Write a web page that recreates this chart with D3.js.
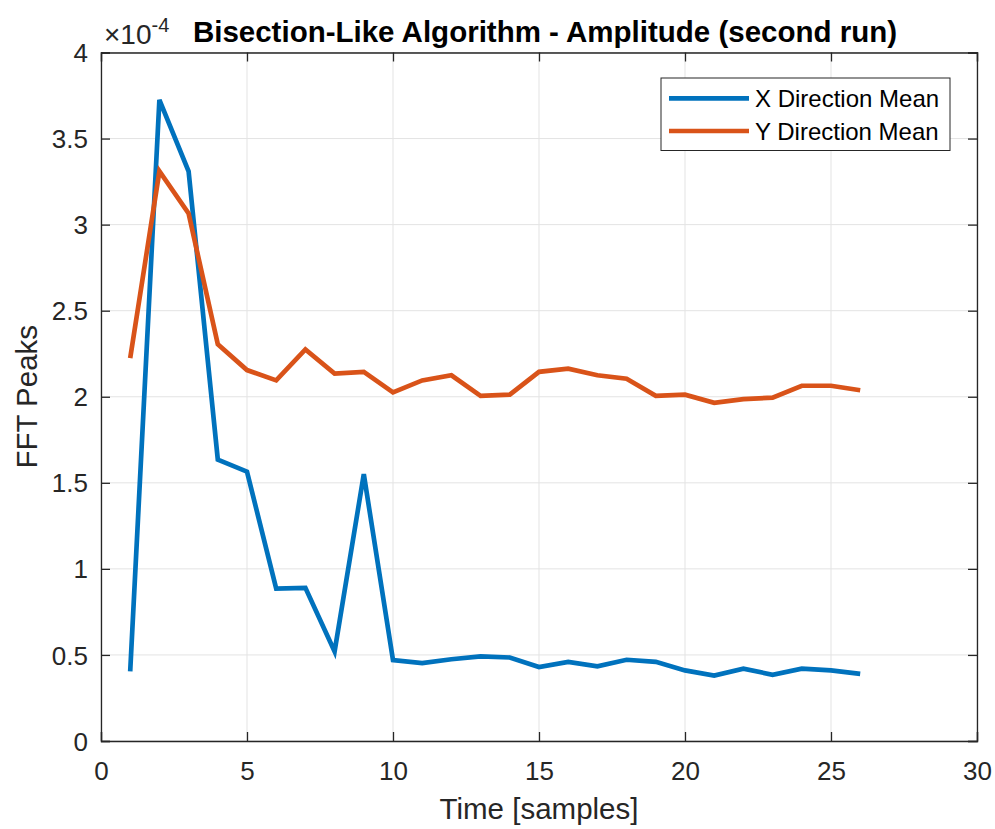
<!DOCTYPE html>
<html>
<head>
<meta charset="utf-8">
<script src="https://cdn.jsdelivr.net/npm/d3@7"></script>
<style>
  body { margin: 0; background: #fff; }
  svg text { font-family: "Liberation Sans", Arial, Helvetica, sans-serif; }
</style>
</head>
<body>
<div class="chart"></div>
<script>
// data (values in units of 1e-4)
const samples = d3.range(1, 27);
const xMean = [0.405, 3.725, 3.31, 1.635, 1.565, 0.885, 0.89, 0.52, 1.55, 0.47,
  0.453, 0.475, 0.492, 0.485, 0.43, 0.46, 0.434, 0.472, 0.46, 0.41,
  0.38, 0.42, 0.385, 0.42, 0.41, 0.39];
const yMean = [2.225, 3.31, 3.065, 2.305, 2.155, 2.095, 2.275, 2.135, 2.145, 2.025,
  2.095, 2.125, 2.005, 2.012, 2.145, 2.163, 2.125, 2.105, 2.005, 2.012,
  1.965, 1.986, 1.995, 2.064, 2.064, 2.038];
const xTicks = [0, 5, 10, 15, 20, 25, 30];
const yTicks = [0, 0.5, 1, 1.5, 2, 2.5, 3, 3.5, 4];
const seriesNames = ["X Direction Mean", "Y Direction Mean"];
const colors = ["#0072BD", "#D95319"];

const width = 995, height = 829;
const plot = { left: 101, right: 977, top: 52.5, bottom: 741 };

const svg = d3.select(".chart").append("svg")
  .attr("width", width).attr("height", height);

const xScale = d3.scaleLinear().domain([0, 30]).range([plot.left, plot.right]);
const yScale = d3.scaleLinear().domain([0, 4]).range([plot.bottom, plot.top]);

// grid
const grid = svg.append("g").attr("stroke", "#e3e3e3").attr("stroke-width", 1);
grid.selectAll(".gx").data(xTicks).join("line")
  .attr("x1", d => xScale(d)).attr("x2", d => xScale(d))
  .attr("y1", plot.top).attr("y2", plot.bottom);
grid.selectAll(".gy").data(yTicks).join("line")
  .attr("x1", plot.left).attr("x2", plot.right)
  .attr("y1", d => yScale(d)).attr("y2", d => yScale(d));

// axes (ticks pointing inward, like matlab)
const axisColor = "#262626";
const xAxis = d3.axisBottom(xScale).tickValues(xTicks).tickSize(-9).tickPadding(21);
const yAxis = d3.axisLeft(yScale).tickValues(yTicks).tickSize(-9).tickPadding(13)
  .tickFormat(d3.format(""));

const gx = svg.append("g").attr("transform", `translate(0,${plot.bottom})`).call(xAxis);
const gy = svg.append("g").attr("transform", `translate(${plot.left},0)`).call(yAxis);
const gxTop = svg.append("g").attr("transform", `translate(0,${plot.top})`)
  .call(d3.axisTop(xScale).tickValues(xTicks).tickSize(-9).tickFormat(""));
const gyRight = svg.append("g").attr("transform", `translate(${plot.right},0)`)
  .call(d3.axisRight(yScale).tickValues(yTicks).tickSize(-9).tickFormat(""));

[gx, gy, gxTop, gyRight].forEach(g => {
  g.select(".domain").attr("stroke", axisColor).attr("stroke-width", 1.3);
  g.selectAll(".tick line").attr("stroke", axisColor).attr("stroke-width", 1.3);
  g.selectAll(".tick text").attr("fill", axisColor)
    .style("font-size", "26px")
    .style("font-family", "'Liberation Sans', Arial, sans-serif");
});
gy.selectAll(".tick text").attr("dy", "0.35em");

// lines
const line = d3.line().x((d, i) => xScale(samples[i])).y(d => yScale(d));
[xMean, yMean].forEach((vals, k) => {
  svg.append("path")
    .datum(vals)
    .attr("fill", "none")
    .attr("stroke", colors[k])
    .attr("stroke-width", 4.7)
    .attr("stroke-linejoin", "miter")
    .attr("d", line);
});

// exponent label
const expo = svg.append("text")
  .attr("x", 104).attr("y", 44)
  .attr("fill", axisColor)
  .style("font-size", "28px");
expo.append("tspan").text("\u00d710");
expo.append("tspan").attr("dy", -12).style("font-size", "20px").text("-4");

// title
svg.append("text")
  .attr("x", 545).attr("y", 41.5)
  .attr("text-anchor", "middle")
  .style("font-size", "29.5px").style("font-weight", "bold")
  .attr("fill", "#000")
  .text("Bisection-Like Algorithm - Amplitude (second run)");

// axis labels
svg.append("text")
  .attr("x", (plot.left + plot.right) / 2).attr("y", 819)
  .attr("text-anchor", "middle").attr("fill", axisColor)
  .style("font-size", "29.5px")
  .text("Time [samples]");

svg.append("text")
  .attr("transform", `translate(37,${(plot.top + plot.bottom) / 2}) rotate(-90)`)
  .attr("text-anchor", "middle").attr("fill", axisColor)
  .style("font-size", "29.5px")
  .text("FFT Peaks");

// legend
const legend = svg.append("g").attr("transform", "translate(661,78)");
legend.append("rect")
  .attr("width", 289).attr("height", 72.5)
  .attr("fill", "#fff").attr("stroke", axisColor).attr("stroke-width", 1);
const items = legend.selectAll(".item").data(seriesNames).join("g")
  .attr("transform", (d, i) => `translate(0,${20.3 + i * 32.7})`);
items.append("line")
  .attr("x1", 8).attr("x2", 88)
  .attr("stroke", (d, i) => colors[i]).attr("stroke-width", 4.7);
items.append("text")
  .attr("x", 94).attr("dy", "0.36em")
  .attr("fill", "#000")
  .style("font-size", "24px")
  .text(d => d);
</script>
</body>
</html>
